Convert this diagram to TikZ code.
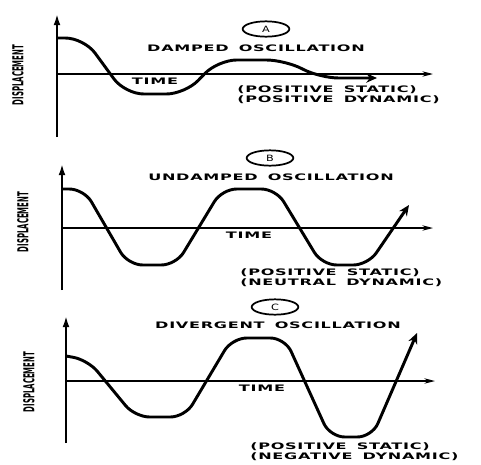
\documentclass[tikz,border=0pt]{standalone}
\usepackage{fontspec}
\usetikzlibrary{arrows.meta,shapes.geometric}
\newfontfamily\capfont[FakeStretch=1.8,LetterSpace=8,WordSpace=1.6]{DejaVu Sans}
\newfontfamily\tagfont[FakeStretch=1.3]{DejaVu Sans}
\newfontfamily\dispfont[FakeStretch=0.46]{DejaVu Sans}
\tikzset{
  caps/.style={font=\capfont\bfseries\fontsize{6.7}{7.5}\selectfont,inner sep=0},
  note/.style={caps,align=left,anchor=west},
  disp/.style={font=\dispfont\bfseries\fontsize{11.3}{12}\selectfont,rotate=90,inner sep=0},
  tag/.style={draw,ellipse,line width=1.3pt,minimum width=35pt,minimum height=11.5pt,
    inner sep=0,font=\tagfont\fontsize{6.5}{7}\selectfont},
  yaxis/.style={line width=2pt,-{Latex[length=9pt,width=5pt]}},
  xaxis/.style={line width=1pt,-{Stealth[length=8pt,width=4pt]}},
  wave/.style={line width=2.2pt,rounded corners=11pt,-{Stealth[length=8pt,width=7pt]}}
}
\begin{document}
\begin{tikzpicture}[x=0.75pt,y=-0.75pt]
      \useasboundingbox (0,0) rectangle (481,464);

      % A: damped
      \draw[yaxis] (57,137) -- (57,13);
      \draw[xaxis] (57,74) -- (433,74);
      \draw[wave,rounded corners=14pt] (57,38) -- (84,38) -- (125,94) -- (185,94) -- (218,60)
        -- (285,60) -- (320,78) -- (377,78);
      \node[tag] (tagA) at (266,29) {A};
      \node[caps] (titleA) at (256,48) {DAMPED OSCILLATION};
      \node[caps] (timeA) at (155,81) {TIME};
      \node[note] (noteA) at (237,95) {(POSITIVE STATIC)\\(POSITIVE DYNAMIC)};
      \node[disp] (dispA) at (18,75) {DISPLACEMENT};

      % B: undamped
      \draw[yaxis] (62,290) -- (62,163);
      \draw[xaxis] (62,228) -- (433,228);
      \draw[wave] (62,189) -- (84,189) -- (128,265) -- (176,265) -- (222,189)
        -- (276,189) -- (322,265) -- (368,265) -- (409,205);
      \node[tag] (tagB) at (270,158) {B};
      \node[caps] (titleB) at (271,177) {UNDAMPED OSCILLATION};
      \node[caps] (timeB) at (249,235) {TIME};
      \node[note] (noteB) at (240,278) {(POSITIVE STATIC)\\(NEUTRAL DYNAMIC)};
      \node[disp] (dispB) at (23,222) {DISPLACEMENT};

      % C: divergent
      \draw[yaxis] (66,443) -- (66,315);
      \draw[xaxis] (66,381) -- (435,381);
      \draw[wave] (66,356) -- (88,360) -- (135,417) -- (185,417) -- (232,338)
        -- (285,338) -- (330,437) -- (372,437) -- (417,333);
      \node[tag] (tagC) at (275,307) {C};
      \node[caps] (titleC) at (278,325) {DIVERGENT OSCILLATION};
      \node[caps] (timeC) at (262,388) {TIME};
      \node[note] (noteC) at (250,452) {(POSITIVE STATIC)\\(NEGATIVE DYNAMIC)};
      \node[disp] (dispC) at (29,382) {DISPLACEMENT};
\end{tikzpicture}
\end{document}
